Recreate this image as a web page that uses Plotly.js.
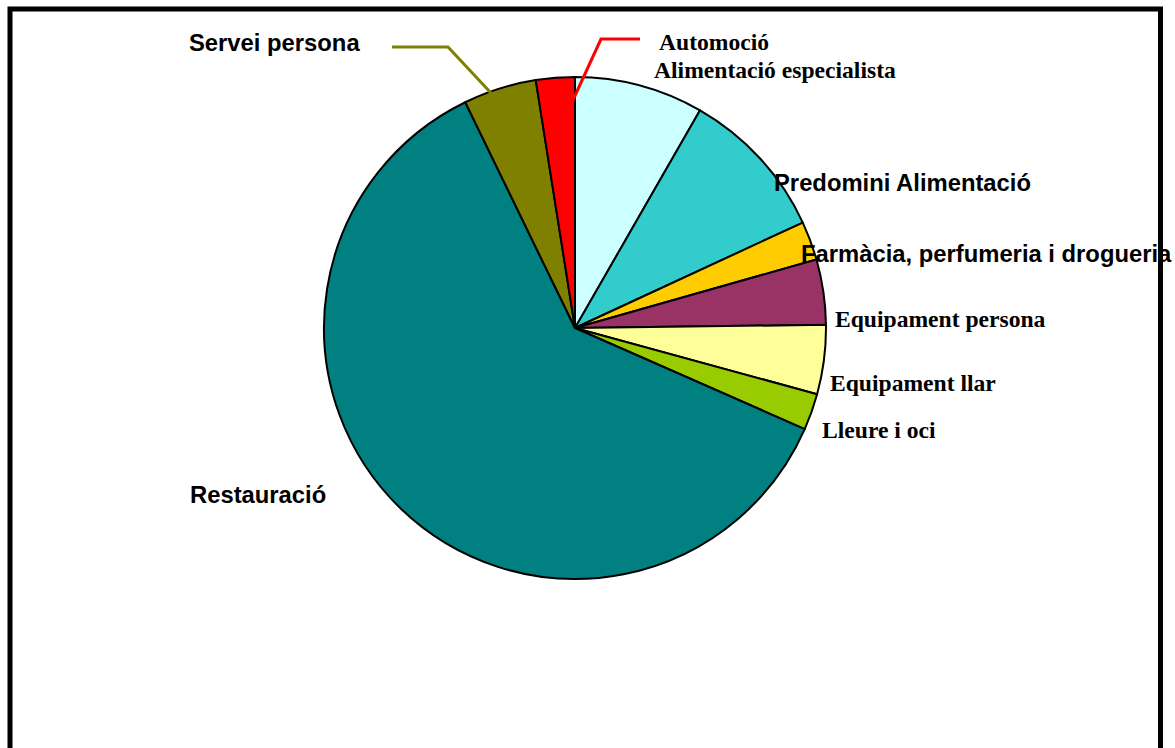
<!DOCTYPE html>
<html>
<head>
<meta charset="utf-8">
<script src="https://cdn.plot.ly/plotly-3.0.1.min.js"></script>
<style>
  html, body { margin: 0; padding: 0; background: #ffffff; }
  #chart { width: 1175px; height: 748px; }
</style>
</head>
<body>
<div id="chart"></div>
<script>
// ---- data ----
const categories = [
  "Alimentació especialista",
  "Predomini Alimentació",
  "Farmàcia, perfumeria i drogueria",
  "Equipament persona",
  "Equipament llar",
  "Lleure i oci",
  "Restauració",
  "Servei persona",
  "Automoció"
];
const shares = [8.3, 9.8, 2.5, 4.2, 4.45, 2.35, 61.2, 4.7, 2.5];
const sliceColors = ["#CCFFFF", "#33CCCC", "#FFCC00", "#993366", "#FFFF99", "#99CC00", "#008080", "#808000", "#FF0000"];

// ---- layout helpers (pixel positions -> paper coords) ----
const W = 1175, H = 748;
const px = x => x / W;
const py = y => 1 - y / H;

const SANS = "Liberation Sans, Arial, sans-serif";
const SERIF = "Liberation Serif, Times New Roman, serif";

// label placement: [left x, vertical centre y, font family, size]
const labelPlace = {
  "Alimentació especialista": [652, 70, SERIF, 23.6],
  "Predomini Alimentació": [772, 183, SANS, 23.8],
  "Farmàcia, perfumeria i drogueria": [799, 253, SANS, 23.8],
  "Equipament persona": [833, 319, SERIF, 23.6],
  "Equipament llar": [828, 383, SERIF, 23.6],
  "Lleure i oci": [820, 430, SERIF, 23.6],
  "Restauració": [188, 494, SANS, 23.8],
  "Servei persona": [187, 42, SANS, 23.8],
  "Automoció": [657, 42, SERIF, 23.6]
};

const annotations = categories.map(c => {
  const p = labelPlace[c];
  return {
    text: c,
    xref: "paper", yref: "paper",
    x: px(p[0]), y: py(p[1]),
    xanchor: "left", yanchor: "middle",
    showarrow: false,
    font: { family: p[2], size: p[3], color: "#000000", weight: "bold" }
  };
});

const cx = 575, cy = 328, r = 251;

const trace = {
  type: "pie",
  labels: categories,
  values: shares,
  sort: false,
  direction: "clockwise",
  rotation: 0,
  textinfo: "none",
  hoverinfo: "label+percent",
  marker: { colors: sliceColors, line: { color: "#000000", width: 2 } },
  domain: { x: [px(cx - r), px(cx + r)], y: [py(cy + r), py(cy - r)] },
  showlegend: false
};

const shapes = [
  // Servei persona leader line
  { type: "path", xref: "paper", yref: "paper", layer: "above",
    path: `M ${px(392)} ${py(47)} L ${px(448)} ${py(47)} L ${px(491)} ${py(93)}`,
    line: { color: "#808000", width: 3 } },
  // Automoció leader line
  { type: "path", xref: "paper", yref: "paper", layer: "above",
    path: `M ${px(640)} ${py(39)} L ${px(601)} ${py(39)} L ${px(573)} ${py(100)}`,
    line: { color: "#FF0000", width: 3 } },
  // outer frame
  { type: "rect", xref: "paper", yref: "paper", layer: "above",
    x0: px(10), x1: px(1160.5), y0: -0.05, y1: py(9),
    line: { color: "#000000", width: 5 }, fillcolor: "rgba(0,0,0,0)" }
];

const layout = {
  width: W, height: H,
  margin: { l: 0, r: 0, t: 0, b: 0, pad: 0 },
  paper_bgcolor: "#ffffff",
  plot_bgcolor: "#ffffff",
  showlegend: false,
  annotations: annotations,
  shapes: shapes
};

Plotly.newPlot("chart", [trace], layout, { displayModeBar: false, staticPlot: true });
</script>
</body>
</html>
